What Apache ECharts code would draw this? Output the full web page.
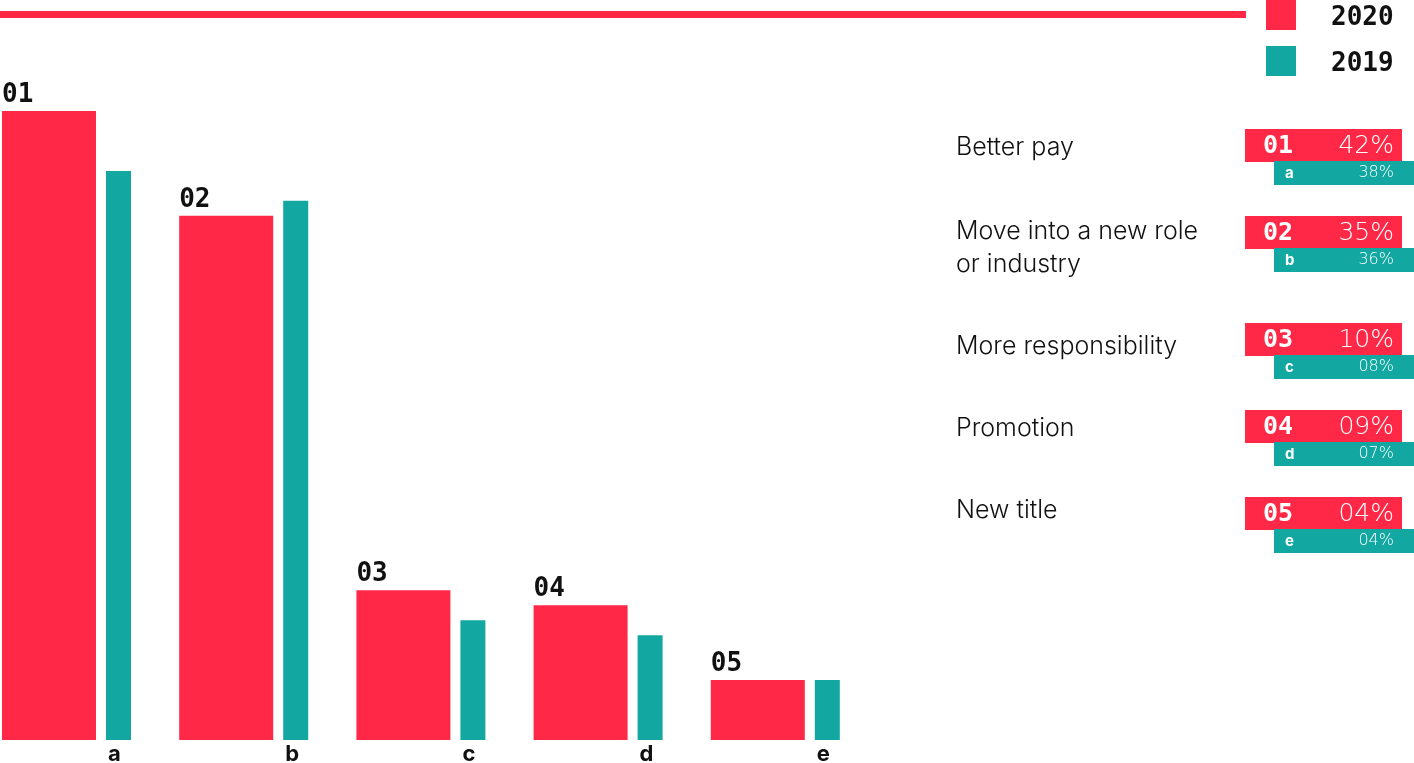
<!DOCTYPE html>
<html><head><meta charset="utf-8">
<script src="https://cdn.jsdelivr.net/npm/echarts@6/dist/echarts.min.js"></script>
<style>html,body{margin:0;padding:0;background:#fff}#c{width:1414px;height:763px}</style>
</head><body><div id="c"></div>
<script>
// ---- data ----
const categories = ['Better pay', 'Move into a new role\nor industry', 'More responsibility', 'Promotion', 'New title'];
const rankLabels = ['01', '02', '03', '04', '05'];
const letterLabels = ['a', 'b', 'c', 'd', 'e'];
const values2020 = [42, 35, 10, 9, 4];
const values2019 = [38, 36, 8, 7, 4];
const seriesNames = ['2020', '2019'];

// ---- style / layout ----
const RED = '#FF2846', TEAL = '#12A8A1', INK = '#111111';
const MONO = '"DejaVu Sans Mono", monospace';
const SANS = 'Inter, Lato, "Noto Sans", sans-serif';
const LIGHTNUM = '"DejaVu Sans", sans-serif';
const rowTops = [129, 216, 323, 410, 497];
const labelMid = [147, 231, 346, 428, 510];
const pct = v => String(v).padStart(2, '0') + '%';

const chart = echarts.init(document.getElementById('c'), null, {renderer: 'canvas'});

const graphics = [
  {type: 'rect', shape: {x: 0, y: 11, width: 1246, height: 7}, style: {fill: RED}, silent: true}
];
categories.forEach((name, i) => {
  const t = rowTops[i];
  graphics.push(
    {type: 'text', x: 956, y: labelMid[i] - 16.5, style: {text: name, font: '300 25px ' + SANS, fill: INK, lineHeight: 33, verticalAlign: 'top', align: 'left'}},
    {type: 'rect', shape: {x: 1245, y: t, width: 157, height: 33}, style: {fill: RED}},
    {type: 'rect', shape: {x: 1274, y: t + 32, width: 140, height: 24}, style: {fill: TEAL}},
    {type: 'text', x: 1263, y: t + 17, style: {text: rankLabels[i], font: 'bold 25px ' + MONO, fill: '#fff', verticalAlign: 'middle', align: 'left'}},
    {type: 'text', x: 1394, y: t + 17, style: {text: pct(values2020[i]), font: '200 25px ' + LIGHTNUM, fill: '#fff', verticalAlign: 'middle', align: 'right'}},
    {type: 'text', x: 1285, y: t + 44, style: {text: letterLabels[i], font: 'bold 15px ' + SANS, fill: '#fff', verticalAlign: 'middle', align: 'left'}},
    {type: 'text', x: 1394, y: t + 44, style: {text: pct(values2019[i]), font: '200 16px ' + LIGHTNUM, fill: '#fff', verticalAlign: 'middle', align: 'right'}}
  );
});

chart.setOption({
  animation: false,
  backgroundColor: '#fff',
  grid: {left: -22.1, width: 886, top: 111, height: 629, outerBoundsMode: 'none', containLabel: false},
  legend: {
    left: 1266, top: 0, orient: 'vertical', icon: 'rect', padding: 0,
    itemWidth: 30, itemHeight: 30, itemGap: 15,
    data: seriesNames,
    formatter: '{t|{name}}',
    textStyle: {
      fontFamily: MONO, fontWeight: 'bold', fontSize: 26, color: INK, padding: [0, 0, 0, 30],
      rich: {t: {fontFamily: MONO, fontWeight: 'bold', fontSize: 26, color: INK, padding: [6, 0, 0, 0]}}
    }
  },
  xAxis: {type: 'category', data: categories, show: false},
  yAxis: {type: 'value', min: 0, max: 42, show: false, splitLine: {show: false}},
  series: [
    {
      name: seriesNames[0], type: 'bar', data: values2020, barWidth: 94, barGap: '10.64%',
      itemStyle: {color: RED},
      label: {
        show: true, position: [0, -16], align: 'left', verticalAlign: 'middle',
        formatter: p => rankLabels[p.dataIndex],
        fontFamily: MONO, fontWeight: 'bold', fontSize: 26, color: INK
      }
    },
    {
      name: seriesNames[1], type: 'bar', data: values2019, barWidth: 25, barGap: '10.64%',
      itemStyle: {color: TEAL},
      label: {
        show: true, position: [2, '100%'], offset: [0, 14], align: 'left', verticalAlign: 'middle',
        formatter: p => letterLabels[p.dataIndex],
        fontFamily: SANS, fontWeight: 'bold', fontSize: 22, color: INK
      }
    }
  ],
  graphic: graphics
});
</script>
</body></html>
